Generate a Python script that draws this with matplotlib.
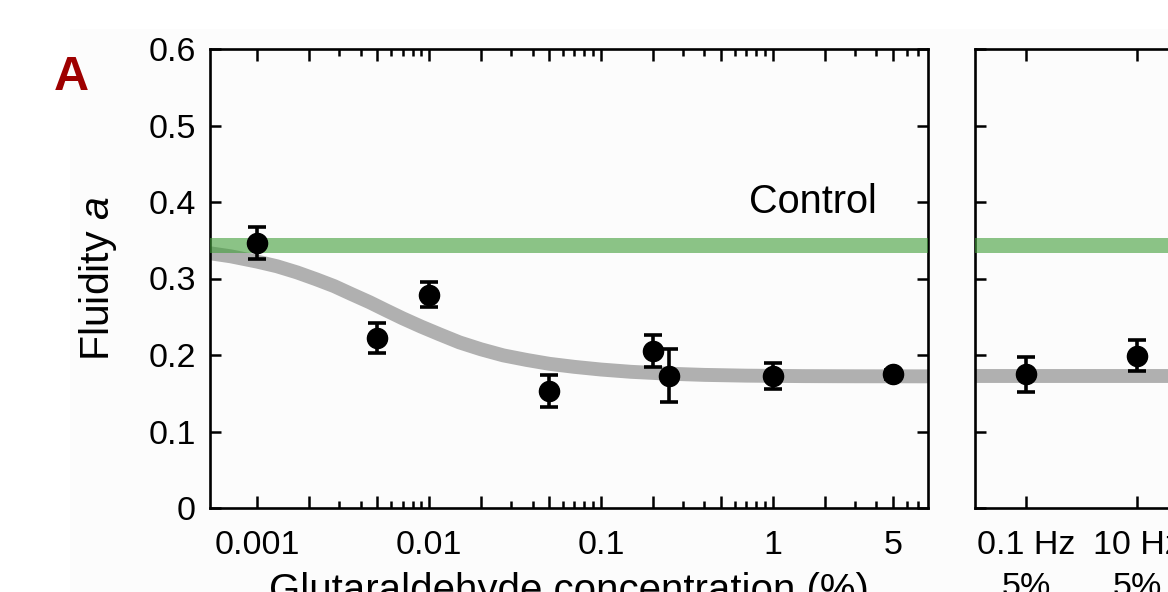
import numpy as np
import matplotlib
matplotlib.use("Agg")
import matplotlib.pyplot as plt
from matplotlib.patches import Rectangle
from matplotlib.ticker import FixedLocator, FixedFormatter

plt.rcParams.update({
    "font.family": ["Liberation Sans", "DejaVu Sans"],
    "mathtext.fontset": "custom",
    "mathtext.rm": "Liberation Sans",
    "mathtext.it": "Liberation Sans:italic",
    "axes.linewidth": 1.9,
})

# glutaraldehyde series (concentration in %)
conc = [0.001, 0.005, 0.01, 0.05, 0.2, 0.25, 1, 5]
fluidity = [0.346, 0.222, 0.279, 0.153, 0.205, 0.173, 0.172, 0.175]
fluidity_err = [0.021, 0.020, 0.016, 0.021, 0.021, 0.035, 0.017, 0.006]

# fit curve, points
fit_conc = [0.00053, 0.0007, 0.001, 0.0013, 0.0017, 0.0022, 0.0028, 0.0035, 0.0045,
            0.0056, 0.007, 0.009, 0.0115, 0.015, 0.02, 0.027, 0.037, 0.05, 0.07,
            0.1, 0.15, 0.25, 0.4, 0.7, 1.5, 3, 8]
fit_val = [0.333, 0.329, 0.322, 0.316, 0.308, 0.299, 0.290, 0.280, 0.269,
           0.2585, 0.248, 0.237, 0.227, 0.2165, 0.2075, 0.1995, 0.1935, 0.1885, 0.1845,
           0.181, 0.178, 0.1755, 0.174, 0.173, 0.1724, 0.1722, 0.1721]
fit_plateau = 0.1722
control = 0.344

# frequency series (right panel)
freq_labels = ["0.1 Hz\n5%", "10 Hz\n5%"]
freq_val = [0.175, 0.199]
freq_err = [0.023, 0.020]

x_major = [0.001, 0.002, 0.005, 0.01, 0.02, 0.05, 0.1, 0.2, 0.5, 1, 2, 5]
x_major_lab = ["0.001", "", "", "0.01", "", "", "0.1", "", "", "1", "", "5"]
x_minor = [m * 10.0 ** e for e in range(-3, 0) for m in (3, 4, 6, 7, 8, 9)] + [3, 4, 6, 7]
y_ticks = [0, 0.1, 0.2, 0.3, 0.4, 0.5, 0.6]
y_tick_lab = ["0", "0.1", "0.2", "0.3", "0.4", "0.5", "0.6"]

GREEN = (0.25, 0.62, 0.22)
GREY = "#b0b0b0"
W, H = 1168, 592

fig = plt.figure(figsize=(W / 100, H / 100), dpi=100)
fig.patches.append(Rectangle((70 / W, 0), 1, 1 - 29 / H, transform=fig.transFigure,
                             facecolor="#fcfcfc", edgecolor="none", zorder=-10))

ax = fig.add_axes([210 / W, 1 - 508 / H, 718 / W, 459 / H])
ax2 = fig.add_axes([975 / W, 1 - 508 / H, 324 / W, 459 / H])

ebkw = dict(fmt="o", color="black", ms=14.5, elinewidth=2.6, capsize=6.5, capthick=2.6, zorder=5)

ax.plot(fit_conc, fit_val, color=GREY, lw=10, solid_capstyle="butt",
        solid_joinstyle="round", zorder=2)
ax.axhline(control, color=GREEN, alpha=0.6, lw=10.8, zorder=3)
ax.errorbar(conc, fluidity, yerr=fluidity_err, **ebkw)
ax.set_xscale("log")
ax.set_xlim(0.00053, 8.0)
ax.set_ylim(0, 0.6)
ax.xaxis.set_major_locator(FixedLocator(x_major))
ax.xaxis.set_major_formatter(FixedFormatter(x_major_lab))
ax.xaxis.set_minor_locator(FixedLocator(x_minor))
ax.set_yticks(y_ticks)
ax.set_yticklabels(y_tick_lab)
ax.tick_params(which="both", direction="in", top=True, right=True, labelsize=24.5, width=1.8)
ax.tick_params(axis="x", which="major", length=8.6, pad=16)
ax.tick_params(axis="x", which="minor", length=5)
ax.tick_params(axis="y", length=7.8, pad=10)
ax.text(4.0, 0.4, "Control", ha="right", va="center", fontsize=28.5)
ax.set_xlabel("Glutaraldehyde concentration (%)", fontsize=29, labelpad=8)
ax.set_ylabel("Fluidity $a$", fontsize=29.5, labelpad=21)
ax.set_facecolor("none")

xpos = np.arange(len(freq_labels))
ax2.axhline(fit_plateau, color=GREY, lw=10, zorder=2)
ax2.axhline(control, color=GREEN, alpha=0.6, lw=10.8, zorder=3)
ax2.errorbar(xpos, freq_val, yerr=freq_err, **ebkw)
ax2.set_xlim(-0.46, 2.46)
ax2.set_ylim(0, 0.6)
ax2.set_xticks(xpos)
ax2.set_xticklabels(freq_labels, linespacing=1.45)
ax2.set_yticks(y_ticks)
ax2.tick_params(direction="in", top=True, right=True, labelleft=False,
                labelsize=24.5, width=1.8)
ax2.tick_params(axis="x", length=8.6, pad=16)
ax2.tick_params(axis="y", length=7.8)
ax2.set_facecolor("none")

fig.text(54 / W, 1 - 89.5 / H, "A", fontsize=35, fontweight="bold", color="#9e0000",
         ha="left", va="baseline")

fig.savefig("out.png", dpi=100)
